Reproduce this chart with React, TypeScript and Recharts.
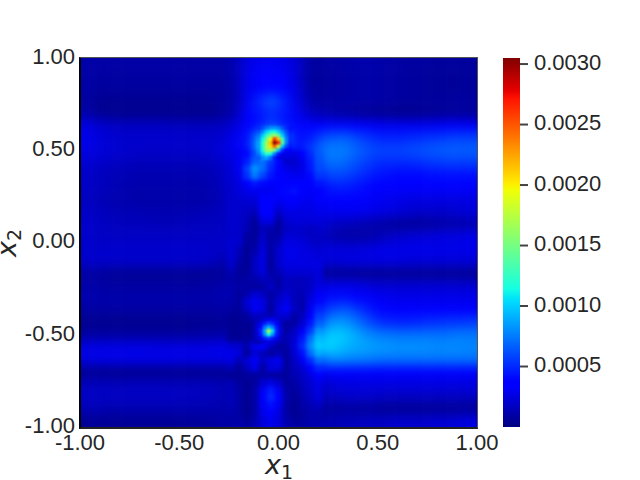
import React from 'react';
import {
  Bar,
  BarChart,
  Label,
  Scatter,
  ScatterChart,
  XAxis,
  YAxis,
} from 'recharts';

// heat values are in units of 1e-5, one list per row from the top of the plot
const coarseRows: number[][] = [
  [11,10,10,10,10,10,10,10,10,10,10,10,14,26,30,30,28,22,9,9,10,11,12,12,11,10,9,9,8,8,8,8],
  [10,9,9,9,9,9,9,9,9,9,9,9,13,28,34,34,32,22,8,8,9,10,11,11,10,9,8,8,7,7,7,7],
  [10,8,8,8,8,8,8,8,8,8,8,8,12,28,38,40,36,24,9,8,9,10,11,11,10,9,8,8,7,7,7,7],
  [9,5,5,5,5,5,5,5,5,5,6,8,12,30,50,62,46,26,12,9,10,11,11,11,10,9,8,8,8,8,9,9],
  [12,5,5,4,4,4,4,4,4,4,4,7,14,34,44,50,44,30,18,14,11,9,7,6,5,4,4,5,6,7,7,7],
  [26,22,19,18,18,18,18,17,17,17,17,18,24,36,44,60,44,40,34,38,40,40,36,32,30,30,30,30,30,32,32,32],
  [28,24,22,20,20,20,20,20,20,20,20,22,30,42,90,130,80,42,45,60,66,66,58,52,48,48,50,52,54,56,58,58],
  [26,24,22,20,20,19,19,19,19,19,20,24,30,40,95,140,60,40,55,72,76,74,66,60,58,58,60,62,64,66,66,66],
  [22,20,18,17,16,16,16,16,16,16,17,20,26,38,70,60,30,26,40,66,72,68,60,54,50,50,50,52,54,56,56,56],
  [19,17,15,14,13,13,13,13,13,13,14,18,26,48,62,42,32,26,36,54,60,58,52,46,42,40,40,40,42,42,42,42],
  [19,17,15,13,12,12,12,12,12,12,13,17,24,36,38,36,40,40,32,40,46,46,42,38,36,34,34,34,34,34,34,34],
  [17,15,13,12,11,11,11,11,11,11,12,15,22,32,34,40,42,40,32,34,36,36,34,32,30,28,26,26,26,26,26,26],
  [19,17,15,14,14,13,13,13,13,14,15,17,20,26,34,42,38,32,28,28,30,30,30,28,26,24,22,20,20,20,22,24],
  [20,18,17,16,16,16,15,15,16,17,17,17,18,18,30,32,26,24,24,22,18,16,14,12,9,7,7,7,9,11,11,13],
  [20,18,18,18,18,18,18,18,18,18,18,19,18,10,24,28,14,24,24,18,12,10,10,12,16,20,22,24,24,26,26,28],
  [20,20,20,20,20,20,20,20,20,20,20,19,18,12,22,26,14,22,24,24,24,24,24,26,28,28,28,28,28,28,28,28],
  [20,20,20,20,20,20,20,20,20,20,18,14,10,14,22,26,12,20,22,24,24,26,26,26,26,26,24,24,24,24,24,24],
  [9,8,7,6,6,6,6,6,6,6,6,6,10,16,22,26,12,14,8,6,5,5,5,5,5,5,5,5,5,5,5,5],
  [11,10,9,9,9,9,9,9,9,9,10,12,16,14,12,22,18,12,18,26,28,28,26,24,22,22,22,22,22,22,22,22],
  [13,12,12,12,12,12,12,12,12,12,12,13,14,20,20,30,22,14,22,36,42,42,38,32,30,28,28,28,28,28,28,28],
  [9,9,9,9,9,9,9,9,9,9,9,11,10,22,22,22,24,16,24,50,62,64,54,44,38,36,36,36,36,36,38,38],
  [4,4,4,4,4,4,4,4,4,5,5,6,8,14,12,28,12,14,28,68,84,82,70,58,50,48,48,50,52,54,54,56],
  [9,9,9,9,9,9,9,9,9,10,10,11,12,18,22,24,14,20,50,92,100,96,86,78,74,72,72,72,72,72,74,74],
  [26,27,27,27,27,27,26,26,26,26,27,29,28,20,24,22,12,22,72,102,100,92,88,86,84,82,82,82,80,80,80,78],
  [26,27,27,27,27,27,27,27,27,27,27,27,26,14,28,28,14,16,44,72,80,78,76,74,72,72,72,72,72,72,72,72],
  [5,4,4,4,4,4,4,4,4,4,4,4,8,14,14,12,10,14,20,34,38,38,38,38,38,38,38,38,38,38,38,38],
  [16,16,16,16,16,16,16,16,16,16,16,14,12,10,26,38,30,12,16,20,24,26,26,26,26,26,26,26,26,26,26,26],
  [18,18,18,18,18,18,18,18,17,17,16,14,12,10,30,44,32,12,12,16,18,20,20,20,18,18,18,18,18,18,18,18],
  [14,14,13,13,13,13,13,13,13,13,13,12,12,10,28,36,26,10,8,8,8,8,8,8,6,6,6,6,6,6,6,6],
  [6,6,6,6,6,6,6,6,7,7,8,10,12,10,24,30,24,12,10,12,14,16,16,18,18,20,20,20,22,22,24,26],
];

// middle strip around x1 = 0, sampled finer for the valleys between the blobs
const stripXs = [-0.24, -0.2, -0.16, -0.12, -0.08, -0.04, 0, 0.04, 0.08, 0.12, 0.16, 0.2];
const stripYs = [
  0.48, 0.44, 0.4, 0.36, 0.32, 0.28, 0.24, 0.2, 0.16, 0.12, 0.08, 0.04, 0, -0.04, -0.08, -0.12, -0.16, -0.2, -0.24,
  -0.28, -0.32, -0.36, -0.4, -0.44, -0.48, -0.52, -0.56, -0.6, -0.64, -0.68, -0.72, -0.76, -0.8, -0.84, -0.88, -0.92,
  -0.96, -1,
];
const stripRows: number[][] = [
  [26,30,40,60,90,70,36,20,26,34,50,64],
  [24,30,46,66,72,55,40,20,20,28,46,62],
  [22,30,56,82,70,50,38,28,24,28,44,60],
  [22,28,52,74,58,44,36,32,30,30,40,54],
  [21,26,36,44,40,34,34,38,38,34,36,44],
  [20,24,28,30,30,30,34,40,42,36,32,36],
  [20,22,24,24,34,36,32,38,38,32,30,34],
  [20,20,20,20,38,38,26,30,32,28,28,30],
  [20,20,18,14,34,36,18,26,26,26,26,28],
  [20,20,16,8,26,28,10,22,24,24,24,24],
  [20,20,14,7,16,14,8,18,20,20,18,20],
  [20,20,10,7,18,10,10,22,22,20,18,18],
  [22,20,8,8,22,10,16,26,26,24,20,18],
  [22,16,6,12,24,10,20,28,28,26,24,22],
  [22,14,6,16,26,9,20,28,28,26,26,24],
  [20,10,6,18,26,8,20,26,26,26,26,26],
  [14,8,7,16,24,10,14,22,22,22,22,24],
  [11,8,10,12,16,14,10,18,16,16,18,24],
  [12,10,10,8,10,18,10,18,16,16,18,26],
  [13,8,12,22,18,10,16,22,16,14,22,32],
  [11,8,22,30,26,10,20,28,16,12,26,40],
  [9,7,18,30,26,8,24,32,18,12,30,48],
  [6,6,8,18,16,14,22,22,10,16,36,58],
  [5,5,6,8,28,34,10,8,10,22,44,68],
  [5,5,5,8,50,60,8,10,18,32,56,84],
  [6,6,7,10,30,34,8,14,22,44,72,95],
  [22,20,12,28,34,18,8,10,24,50,80,100],
  [28,24,8,24,16,8,14,8,22,42,70,90],
  [26,14,22,32,18,26,30,8,18,30,50,70],
  [14,7,16,28,10,24,24,8,16,22,36,50],
  [6,6,8,8,10,10,8,8,14,18,26,36],
  [14,8,6,8,20,26,20,8,10,16,22,28],
  [16,10,6,10,30,46,30,10,8,14,20,26],
  [16,10,5,10,32,50,34,12,6,12,18,24],
  [14,10,5,10,30,42,30,10,5,10,14,18],
  [12,10,5,10,28,34,26,10,5,8,12,12],
  [10,10,7,12,24,30,24,12,7,8,12,12],
  [10,12,10,14,24,28,24,14,10,10,12,14],
];

// finer sampling around the two peaks
const upperXs = [-0.1, -0.08, -0.06, -0.04, -0.02, 0, 0.02, 0.04, 0.06];
const upperYs = [0.62, 0.6, 0.58, 0.56, 0.54, 0.52, 0.5, 0.48, 0.46];
const upperRows: number[][] = [
  [50,60,72,80,82,76,62,50,42],
  [60,78,100,112,115,100,80,60,46],
  [72,98,125,150,165,140,98,68,50],
  [80,112,150,195,260,215,125,76,50],
  [85,120,165,215,305,265,140,76,48],
  [85,120,168,205,245,180,95,58,44],
  [82,115,165,170,150,95,52,38,34],
  [74,100,125,115,78,46,30,28,28],
  [64,80,88,72,46,28,24,24,24],
];
const lowerXs = [-0.11, -0.09, -0.07, -0.05, -0.03, -0.01, 0.01];
const lowerYs = [-0.42, -0.44, -0.46, -0.48, -0.5, -0.52, -0.54];
const lowerRows: number[][] = [
  [14,18,24,30,30,26,18],
  [18,28,46,58,50,34,20],
  [22,40,72,92,76,46,22],
  [24,46,88,175,105,50,24],
  [22,42,80,115,82,46,22],
  [18,28,46,54,44,28,18],
  [14,18,24,26,24,18,14],
];

const axisTicks = [-1, -0.5, 0, 0.5, 1];
const colorTicks = [0.0005, 0.001, 0.0015, 0.002, 0.0025, 0.003];
const colorMax = 0.00305;
const colorRange = [{ name: 'scale', range: [0, colorMax] }];

// jet colormap anchors
const redAnchors = [[0, 0], [0.35, 0], [0.66, 1], [0.89, 1], [1, 0.5]];
const greenAnchors = [[0, 0], [0.125, 0], [0.375, 1], [0.64, 1], [0.91, 0], [1, 0]];
const blueAnchors = [[0, 0.5], [0.11, 1], [0.34, 1], [0.65, 0], [1, 0]];
const gradientOffsets = [0, 0.11, 0.125, 0.34, 0.35, 0.375, 0.64, 0.65, 0.66, 0.89, 0.91, 1];

const channel = (anchors: number[][], t: number) => {
  for (let i = 1; i < anchors.length; i++) {
    if (t <= anchors[i][0]) {
      const [t0, v0] = anchors[i - 1];
      const [t1, v1] = anchors[i];
      return Math.round(255 * (v0 + ((t - t0) / (t1 - t0)) * (v1 - v0)));
    }
  }
  return Math.round(255 * anchors[anchors.length - 1][1]);
};

const jet = (t: number) =>
  `rgb(${channel(redAnchors, t)},${channel(greenAnchors, t)},${channel(blueAnchors, t)})`;

const FONT = '"Liberation Sans", Arial, sans-serif';
const TEXT = '#262626';
const PLOT = { left: 80, top: 58, width: 397, height: 369 };

const colCount = coarseRows[0].length;
const rowCount = coarseRows.length;
const coarseCells = coarseRows.flatMap((row, r) =>
  row.map((v, c) => ({
    x: -1 + ((c + 0.5) * 2) / colCount,
    y: 1 - ((r + 0.5) * 2) / rowCount,
    v,
    r,
    c,
  }))
);

const patchCells = (xs: number[], ys: number[], rows: number[][]) =>
  rows.flatMap((row, r) => row.map((v, c) => ({ x: xs[c], y: ys[r], v })));

const stripCells = patchCells(stripXs, stripYs, stripRows);
const upperCells = patchCells(upperXs, upperYs, upperRows);
const lowerCells = patchCells(lowerXs, lowerYs, lowerRows);

const CoarseCell = (props: any) => {
  const { cx, cy, payload } = props;
  const w = PLOT.width / colCount;
  const h = PLOT.height / rowCount;
  // edge cells run past the plot so the blur does not fade at the border
  const pad = 24;
  const x0 = cx - w / 2 - (payload.c === 0 ? pad : 0);
  const x1 = cx + w / 2 + (payload.c === colCount - 1 ? pad : 0.5);
  const y0 = cy - h / 2 - (payload.r === 0 ? pad : 0);
  const y1 = cy + h / 2 + (payload.r === rowCount - 1 ? pad : 0.5);
  return <rect x={x0} y={y0} width={x1 - x0} height={y1 - y0} fill={jet((payload.v * 1e-5) / colorMax)} />;
};

const StripCell = (props: any) => {
  const { cx, cy, payload } = props;
  return <rect x={cx - 4} y={cy - 3.7} width={8.5} height={8} fill={jet((payload.v * 1e-5) / colorMax)} />;
};

const FineCell = (props: any) => {
  const { cx, cy, payload } = props;
  return <rect x={cx - 2} y={cy - 2} width={4.5} height={4.2} fill={jet((payload.v * 1e-5) / colorMax)} />;
};

const tickStyle = { fontFamily: FONT, fontSize: 22, fill: TEXT };

const MathLabel = ({ x, y, sub, rotate }: { x: number; y: number; sub: string; rotate?: boolean }) => (
  <text
    x={x}
    y={y}
    textAnchor="middle"
    fill={TEXT}
    transform={rotate ? `rotate(-90 ${x} ${y})` : undefined}
    style={{ fontFamily: '"DejaVu Sans"' }}
  >
    <tspan fontSize={27} fontStyle="italic">x</tspan>
    <tspan fontSize={19} dy={5}>{sub}</tspan>
  </text>
);

export default function App() {
  return (
    <div style={{ position: 'absolute', left: 0, top: 0, width: 640, height: 480, background: '#fff' }}>
      <style>{`
        .heat-coarse { filter: blur(5.5px); clip-path: url(#plotClip); }
        .heat-strip { filter: blur(2px); clip-path: url(#plotClip); }
        .heat-fine { filter: blur(1.1px); clip-path: url(#plotClip); }
      `}</style>
      <div style={{ position: 'absolute', left: 0, top: 0 }}>
        <ScatterChart width={640} height={480} margin={{ top: 58, right: 163, bottom: 0, left: 0 }}>
          <defs>
            <clipPath id="plotClip">
              <rect x={PLOT.left} y={PLOT.top} width={PLOT.width} height={PLOT.height} />
            </clipPath>
          </defs>
          <XAxis
            type="number"
            dataKey="x"
            domain={[-1, 1]}
            ticks={axisTicks}
            height={53}
            tickLine={false}
            axisLine={false}
            tick={tickStyle}
            tickMargin={1}
            interval={0}
            tickFormatter={(v: number) => v.toFixed(2)}
          >
            <Label content={() => <MathLabel x={279} y={474} sub="1" />} />
          </XAxis>
          <YAxis
            type="number"
            dataKey="y"
            domain={[-1, 1]}
            ticks={axisTicks}
            width={80}
            tickLine={false}
            axisLine={false}
            tick={{ ...tickStyle, dy: -2 }}
            tickSize={5}
            tickMargin={0}
            interval={0}
            tickFormatter={(v: number) => v.toFixed(2)}
          >
            <Label content={() => <MathLabel x={16} y={243} sub="2" rotate />} />
          </YAxis>
          <Scatter data={coarseCells} shape={<CoarseCell />} className="heat-coarse" isAnimationActive={false} />
          <Scatter data={stripCells} shape={<StripCell />} className="heat-strip" isAnimationActive={false} />
          <Scatter data={upperCells} shape={<FineCell />} className="heat-fine" isAnimationActive={false} />
          <Scatter data={lowerCells} shape={<FineCell />} className="heat-fine" isAnimationActive={false} />
        </ScatterChart>
      </div>
      {/* plot frame: dark left and bottom spines, thin grey top and right */}
      <div
        style={{
          position: 'absolute',
          left: 79,
          top: 57,
          width: 399,
          height: 372,
          boxSizing: 'border-box',
          borderLeft: '2px solid #000',
          borderBottom: '2px solid #222',
          borderTop: '1px solid #555',
          borderRight: '1px solid #555',
          pointerEvents: 'none',
        }}
      />
      <div style={{ position: 'absolute', left: 503, top: 0 }}>
        <BarChart
          width={137}
          height={480}
          data={colorRange}
          barCategoryGap={0}
          margin={{ top: 58, right: 0, bottom: 53, left: 0 }}
        >
          <defs>
            <linearGradient id="jetScale" x1="0" y1="1" x2="0" y2="0">
              {gradientOffsets.map((t) => (
                <stop key={t} offset={t} stopColor={jet(t)} />
              ))}
            </linearGradient>
          </defs>
          <XAxis dataKey="name" hide />
          <YAxis
            orientation="right"
            domain={[0, colorMax]}
            ticks={colorTicks}
            width={120}
            axisLine={false}
            tickSize={8}
            tickMargin={6}
            tickLine={{ stroke: '#444', strokeWidth: 2 }}
            tick={{ ...tickStyle, dy: -2 }}
            interval={0}
            tickFormatter={(v: number) => v.toFixed(4)}
          />
          <Bar dataKey="range" fill="url(#jetScale)" isAnimationActive={false} />
        </BarChart>
      </div>
    </div>
  );
}
